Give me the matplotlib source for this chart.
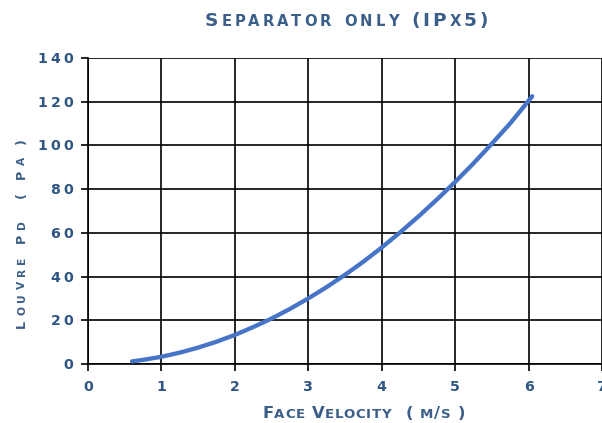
import matplotlib
matplotlib.use("Agg")
import matplotlib.pyplot as plt
from matplotlib.font_manager import FontProperties

# ---- data ----
velocity = [0.6, 0.75, 1.0, 1.25, 1.5, 1.75, 2.0, 2.25, 2.5, 2.75, 3.0, 3.25,
            3.5, 3.75, 4.0, 4.25, 4.5, 4.75, 5.0, 5.25, 5.5, 5.75, 6.05]
pressure = [1.2, 1.9, 3.3, 5.2, 7.5, 10.2, 13.3, 16.9, 20.8, 25.2, 30.0, 35.2,
            40.8, 46.8, 53.3, 60.2, 67.5, 75.2, 83.3, 91.8, 100.8, 110.1, 122.5]
x_ticks = [0, 1, 2, 3, 4, 5, 6, 7]
y_ticks = [0, 20, 40, 60, 80, 100, 120, 140]
x_tick_labels = [str(v) for v in x_ticks]
y_tick_labels = [str(v) for v in y_ticks]
title = "Separator only (IPx5)"
xlabel = "Face Velocity  ( m/s )"
ylabel = "Louvre Pd  ( Pa )"

W, H = 602, 423
TEXT_C = "#3b5f88"
TICK_C = "#2f5582"
LINE_C = "#4674c6"

fig = plt.figure(figsize=(W / 100, H / 100), dpi=100)
ax = fig.add_axes([88 / W, 1 - 364 / H, (602 - 88) / W, (364 - 58) / H])
ax.plot(velocity, pressure, color=LINE_C, lw=3.1, solid_capstyle="round",
        solid_joinstyle="round", zorder=3)
ax.set_xlim(0, 7)
ax.set_ylim(0, 140)
ax.set_xticks(x_ticks)
ax.set_yticks(y_ticks)
ax.grid(True, color="black", lw=1.2)
ax.set_axisbelow(True)
ax.tick_params(labelbottom=False, labelleft=False, length=5, width=1.2,
               color="black", direction="out")
for s in ["top", "right"]:
    ax.spines[s].set_visible(False)
for s in ["left", "bottom"]:
    ax.spines[s].set_linewidth(1.2)

renderer = fig.canvas.get_renderer()


def wid(ch, fp):
    return renderer.get_text_width_height_descent(ch, fp, ismath=False)[0]


def smallcaps(s, big, small):
    items = []
    for ch in s:
        if ch == " ":
            items.append((None, None))
        elif ch.islower():
            items.append((ch.upper(), small))
        else:
            items.append((ch, big))
    return items


def draw_span(items, start, end, base, sp, color, vertical=False):
    widths = [wid(g, fp) if g else sp for g, fp in items]
    track = (abs(end - start) - sum(widths)) / (len(items) - 1)
    pos = start
    for (g, fp), w in zip(items, widths):
        if g is not None:
            if vertical:
                fig.text(base / W, 1 - pos / H, g, fontproperties=fp, rotation=90,
                         rotation_mode="anchor", ha="left", va="baseline", color=color)
            else:
                fig.text(pos / W, 1 - base / H, g, fontproperties=fp,
                         ha="left", va="baseline", color=color)
        if vertical:
            pos -= w + track
        else:
            pos += w + track


# title
t_big = FontProperties(family="DejaVu Sans", weight="bold", size=13.3)
t_small = FontProperties(family="DejaVu Sans", weight="bold", size=10.6)
draw_span(smallcaps(title, t_big, t_small), 205, 488, 26, 7, TEXT_C)

# x label
x_big = FontProperties(family="DejaVu Sans", weight="bold", size=11.8)
x_small = FontProperties(family="DejaVu Sans", weight="bold", size=9.6)
draw_span(smallcaps(xlabel, x_big, x_small), 262, 465, 418, 6, TEXT_C)

# y label
y_big = FontProperties(family="DejaVu Sans", weight="bold", size=9.2)
y_small = FontProperties(family="DejaVu Sans", weight="bold", size=7.7)
draw_span(smallcaps(ylabel, y_big, y_small), 328, 138, 25, 4.5, TEXT_C, vertical=True)

# tick labels (monospaced, extended look)
tick_fp = FontProperties(family="DejaVu Sans", weight="bold", size=10.2)
PITCH = 12.8
CAP = 10.0


def draw_digits(label, center_x, base):
    n = len(label)
    x0 = center_x - PITCH * (n - 1) / 2
    for i, ch in enumerate(label):
        fig.text((x0 + i * PITCH) / W, 1 - base / H, ch, fontproperties=tick_fp,
                 ha="center", va="baseline", color=TICK_C)


for v, lab in zip(x_ticks, x_tick_labels):
    px = ax.transData.transform((v, 0))[0]
    draw_digits(lab, px, 391)

for v, lab in zip(y_ticks, y_tick_labels):
    py = H - ax.transData.transform((0, v))[1]
    n = len(lab)
    cx = 73 - 4.8 - PITCH * (n - 1) / 2
    draw_digits(lab, cx, py + CAP / 2)

fig.savefig("out.png", dpi=100)
